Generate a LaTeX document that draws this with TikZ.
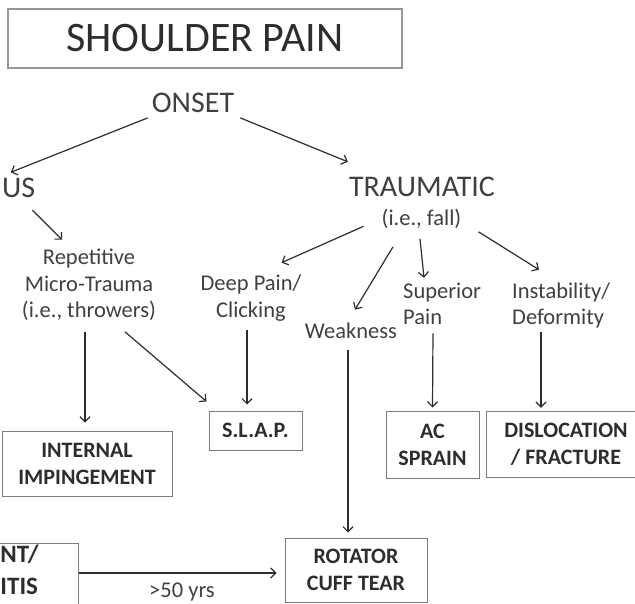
\documentclass[tikz,border=0pt]{standalone}
\usepackage{fontspec}
\setmainfont{Carlito}
\usetikzlibrary{arrows.meta}

\definecolor{inkd}{RGB}{64,64,64}
\definecolor{boldd}{RGB}{45,45,45}
\definecolor{boxd}{RGB}{125,125,125}
\definecolor{titled}{RGB}{150,150,150}

\tikzset{
  txt/.style={inner sep=1pt, text=inkd, align=center, font=\fontsize{22.5}{27}\selectfont},
  bigtxt/.style={inner sep=1pt, text=inkd, font=\fontsize{30}{36}\selectfont},
  titlebox/.style={draw=titled, line width=1.6pt, minimum width=394pt, minimum height=59pt,
                   text=boldd, font=\fontsize{42}{48}\selectfont},
  dxtext/.style={align=center, text=boldd, inner sep=0pt,
                font=\fontsize{22}{27}\selectfont\bfseries},
  dxbox/.style={dxtext, draw=boxd, line width=1pt},
  arr/.style={draw=boldd, line width=1.2pt, -{Straight Barb[length=5pt,width=10pt]}},
}

\begin{document}
\begin{tikzpicture}[x=1pt,y=-1pt]
  \useasboundingbox (0,0) rectangle (635,604);
  % top
  \node[titlebox] (title) at (205,38.5) {SHOULDER PAIN};
  \node[bigtxt, anchor=base] (onset) at (193,113) {ONSET};
  \node[bigtxt, anchor=base west] (insid) at (1,198) {US};
  \node[bigtxt, anchor=base] (traum) at (422,197) {TRAUMATIC};
  \node[txt, anchor=base] (fall) at (421.5,226) {(i.e., fall)};
  % symptoms (base = last line)
  \node[txt, anchor=base] (rep) at (89,318) {Repetitive\\Micro-Trauma\\(i.e., throwers)};
  \node[txt, anchor=base] (deep) at (251,317) {Deep Pain/\\Clicking};
  \node[txt, anchor=base] (weak) at (351,338) {Weakness};
  \node[txt, align=left, anchor=base west] (sup) at (402,325) {Superior\\Pain};
  \node[txt, align=left, anchor=base west] (inst) at (511,325) {Instability/\\Deformity};
  % diagnoses
  \node[dxbox, minimum width=170pt, minimum height=65pt] (internal) at (87,463.5) {INTERNAL\\IMPINGEMENT};
  \node[dxbox, minimum width=93pt, minimum height=39pt] (slap) at (255.5,430.5) {S.L.A.P.};
  \node[dxbox, minimum width=93pt, minimum height=67pt] (ac) at (432.5,444.5) {AC\\SPRAIN};
  \node[dxtext, minimum width=158pt, minimum height=65pt] (disloc) at (566,444.5) {DISLOCATION\\/ FRACTURE};
  \draw[boxd, line width=1pt] (disloc.north east) -- (disloc.north west) -- (disloc.south west) -- (disloc.south east);
  \node[dxbox, minimum width=142pt, minimum height=64pt] (rotator) at (356,570) {ROTATOR\\CUFF TEAR};
  \node[dxbox, align=left, anchor=north east, text width=40pt, inner xsep=38pt, inner ysep=1.5pt,
        font=\fontsize{25}{32}\selectfont\bfseries] (tendin) at (79,543)
        {NT/\\ITIS\rule[-20pt]{0pt}{20pt}};
  \node[txt, anchor=base] (yrs) at (182,597) {>50 yrs};

  \draw[arr] ([xshift=-3pt,yshift=-3.5pt]onset.south west) -- ([xshift=-8pt,yshift=5pt]insid.north);
  \draw[arr] ([xshift=5pt,yshift=-3.5pt]onset.south east) -- ([yshift=14.5pt]traum.north west);
  \draw[arr] ([xshift=-4pt,yshift=-10.7pt]insid.south east) -- ([xshift=-27pt,yshift=7.5pt]rep.north);
  \draw[arr] ([xshift=-17pt,yshift=-7pt]fall.west) -- ([xshift=-21pt,yshift=10.5pt]deep.north east);
  \draw[arr] ([xshift=-28.5pt,yshift=-16.5pt]fall.south) -- ([xshift=4pt,yshift=11.5pt]weak.north);
  \draw[arr] ([xshift=-1.5pt,yshift=-8.5pt]fall.south) -- ([xshift=22pt,yshift=3.5pt]sup.north west);
  \draw[arr] ([xshift=16pt,yshift=-1.5pt]fall.south east) -- ([xshift=28pt,yshift=11.5pt]inst.north west);

  \draw[arr] ([xshift=-4pt,yshift=-9.5pt]rep.south) -- ([xshift=-2pt,yshift=8pt]internal.north);
  \draw[arr] ([xshift=36pt,yshift=-9.5pt]rep.south) -- ([xshift=-2pt,yshift=9pt]slap.north west);
  \draw[arr] ([xshift=-4pt,yshift=-7.5pt]deep.south) -- ([xshift=-8.5pt,yshift=6pt]slap.north);
  \draw[arr] ([xshift=-3pt,yshift=-10.7pt]weak.south) -- ([xshift=-8pt,yshift=5pt]rotator.north);
  \draw[arr] ([xshift=31pt,yshift=-7pt]sup.south west) -- ([yshift=3pt]ac.north);
  \draw[arr] ([xshift=30pt,yshift=-2.4pt]inst.south west) -- ([xshift=-25pt,yshift=4pt]disloc.north);
  \draw[arr] ([yshift=-30pt]tendin.north east) -- ([xshift=-8pt,yshift=-3pt]rotator.west);
\end{tikzpicture}
\end{document}
